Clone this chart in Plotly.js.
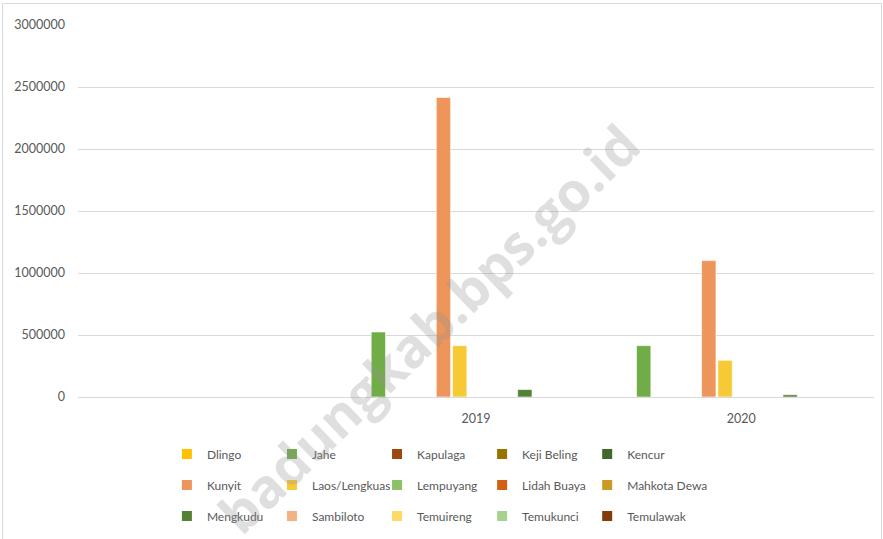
<!DOCTYPE html>
<html>
<head>
<meta charset="utf-8">
<script src="https://cdn.plot.ly/plotly-3.0.1.min.js"></script>
<style>
html,body{margin:0;padding:0;background:#fff;}
#wrap{position:relative;width:883px;height:539px;}
#chart{width:883px;height:539px;}
#frame{position:absolute;left:2px;top:3px;width:880px;height:540px;border:1px solid #d9d9d9;box-sizing:border-box;pointer-events:none;}
</style>
</head>
<body>
<div id="wrap"><div id="chart"></div><div id="frame"></div></div>
<script>
const categories = [" ", "2019", "2020"];
const seriesNames = ["Dlingo","Jahe","Kapulaga","Keji Beling","Kencur","Kunyit","Laos/Lengkuas","Lempuyang","Lidah Buaya","Mahkota Dewa","Mengkudu","Sambiloto","Temuireng","Temukunci","Temulawak"];
const dlingo      = [null, 0, 0];
const jahe        = [null, 524000, 414000];
const kapulaga    = [null, 0, 0];
const kejiBeling  = [null, 0, 0];
const kencur      = [null, 0, 0];
const kunyit      = [null, 2415000, 1100000];
const laos        = [null, 414000, 296000];
const lempuyang   = [null, 0, 0];
const lidahBuaya  = [null, 0, 0];
const mahkotaDewa = [null, 0, 0];
const mengkudu    = [null, 60000, 18000];
const sambiloto   = [null, 0, 0];
const temuireng   = [null, 0, 0];
const temukunci   = [null, 0, 0];
const temulawak   = [null, 0, 0];
const seriesValues = [dlingo,jahe,kapulaga,kejiBeling,kencur,kunyit,laos,lempuyang,lidahBuaya,mahkotaDewa,mengkudu,sambiloto,temuireng,temukunci,temulawak];
const colors = ["#FFC000","#70AD47","#9E480E","#997300","#43682B","#ED955A","#F7C935","#8CC168","#D26012","#CC9A22","#548235","#F4B183","#FFD966","#A9D18E","#843C0C"];
const yTicks = [0,500000,1000000,1500000,2000000,2500000,3000000];

// legend laid out as a 5 x 3 grid: one small legend per entry
const legendId = i => (i === 0 ? "legend" : "legend" + (i + 1));
const traces = seriesNames.map((name,i)=>({
  type:"bar", name:name, x:categories, y:seriesValues[i],
  marker:{color:colors[i], line:{color:"#ffffff", width:0.6}},
  legend: legendId(i),
  hoverinfo:"name+y"
}));

const legendBase = {
  orientation:"h", xref:"container", yref:"container", xanchor:"left", yanchor:"middle",
  itemwidth:30,
  font:{family:"Lato, 'Noto Sans', sans-serif", size:12, color:"#595959"},
  bgcolor:"rgba(0,0,0,0)", itemsizing:"constant"
};
const colX = [0.189, 0.308, 0.427, 0.546, 0.665];
const rowY = [0.1577, 0.1002, 0.0427];

const layout = {
  width:883, height:539,
  margin:{l:78, r:9, t:24.5, b:141.5, autoexpand:false},
  paper_bgcolor:"#ffffff", plot_bgcolor:"#ffffff",
  barmode:"group", bargap:0.08, bargroupgap:0.12,
  showlegend:true,
  font:{family:"Lato, 'Noto Sans', sans-serif", size:12, color:"#595959"},
  xaxis:{type:"category", categoryorder:"array", categoryarray:categories, showgrid:false, zeroline:false, showline:false, ticks:"", ticklabelstandoff:12, tickfont:{size:12.5,color:"#595959"}, fixedrange:true},
  yaxis:{range:[0,3000000], tickvals:yTicks, ticktext:yTicks.map(String), showgrid:true, gridcolor:"#d9d9d9", gridwidth:1, zeroline:true, zerolinecolor:"#d9d9d9", zerolinewidth:1, showline:false, ticks:"", ticklabelstandoff:12, tickfont:{size:12.5,color:"#595959"}, fixedrange:true},
  annotations:[{
    text:"badungkab.bps.go.id", xref:"paper", yref:"paper", x:0.44, y:0.185, xanchor:"center", yanchor:"middle", showarrow:false,
    textangle:-44, font:{family:"'Open Sans', sans-serif", size:54, weight:700, color:"rgba(150,150,150,0.3)"}
  }]
};
seriesNames.forEach((n,i)=>{
  layout[legendId(i)] = Object.assign({}, legendBase, {x:colX[i % 5], y:rowY[Math.floor(i / 5)]});
});

Plotly.newPlot("chart", traces, layout, {displayModeBar:false, staticPlot:true});
</script>
</body>
</html>
